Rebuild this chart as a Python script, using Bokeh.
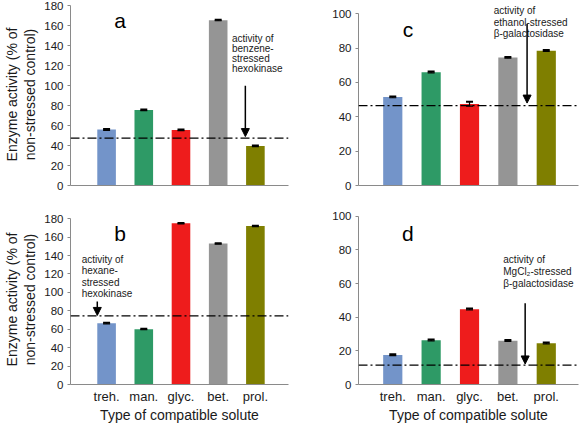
from bokeh.plotting import figure
from bokeh.layouts import column, row
from bokeh.models import FixedTicker, Label, Arrow, NormalHead, Span, ColumnDataSource, Range1d
from bokeh.embed import file_html
from bokeh.resources import INLINE

# ---------------- data ----------------
solutes = ["treh.", "man.", "glyc.", "bet.", "prol."]
colors = ["#7394c9", "#2e9a66", "#ee1c1c", "#959595", "#7f7f00"]

act_a = [56.0, 75.5, 55.5, 165.5, 39.5]
err_a = [0.7, 0.6, 0.6, 0.5, 0.5]
ref_a = 47.5

act_b = [66.5, 60.0, 175.0, 153.0, 172.0]
err_b = [0.6, 0.5, 0.5, 0.5, 0.5]
ref_b = 74.5

act_c = [51.5, 66.0, 47.5, 74.5, 78.5]
err_c = [0.4, 0.4, 1.3, 0.4, 0.4]
ref_c = 46.5

act_d = [17.5, 26.3, 44.7, 26.0, 24.5]
err_d = [0.4, 0.4, 0.4, 0.4, 0.4]
ref_d = 11.5

yticks_hex = [0, 20, 40, 60, 80, 100, 120, 140, 160, 180]
yticks_gal = [0, 20, 40, 60, 80, 100]

note_a = ["activity of", "benzene-", "stressed", "hexokinase"]
note_b = ["activity of", "hexane-", "stressed", "hexokinase"]
note_c = ["activity of", "ethanol-stressed", "\u03b2-galactosidase"]
note_d = ["activity of", "MgCl\u2082-stressed", "\u03b2-galactosidase"]

y_title = "Enzyme activity (% of\nnon-stressed control)"
x_title = "Type of compatible solute"

FONT = "Liberation Sans"
AXIS_COL = "#8a8a8a"
TXT_COL = "#1a1a1a"


def panel(vals, errs, refv, ymax, yend, yticks, xr, width, height, mbl, mbr, mbt, mbb,
          bottom_labels, left_title, letter, letter_xy, note, note_xy, note_step, arrow_xy):
    x = list(range(1, len(vals) + 1))
    src = ColumnDataSource(dict(
        x=x, top=vals, color=colors,
        lo=[v - e for v, e in zip(vals, errs)],
        hi=[v + e for v, e in zip(vals, errs)],
    ))
    p = figure(width=width, height=height, output_backend="svg", toolbar_location=None,
               x_range=Range1d(*xr), y_range=Range1d(0, yend),
               min_border_left=mbl, min_border_right=mbr,
               min_border_top=mbt, min_border_bottom=mbb)
    p.outline_line_color = None
    p.xgrid.visible = False
    p.ygrid.visible = False
    p.background_fill_color = "white"
    p.border_fill_color = "white"

    p.vbar(x="x", top="top", bottom=0, width=0.5, color="color", line_color=None, source=src)
    p.segment(x0="x", y0="lo", x1="x", y1="hi", line_color="black", line_width=1.2, source=src)
    p.scatter(x="x", y="hi", marker="dash", size=7, line_color="black", line_width=2, source=src)
    p.scatter(x="x", y="lo", marker="dash", size=7, line_color="black", line_width=1.2, source=src)

    p.add_layout(Span(location=refv, dimension="width", line_color="black",
                      line_width=1.3, line_dash="9 3 2 3"))

    # axes
    yax = p.yaxis[0]
    yax.ticker = FixedTicker(ticks=yticks)
    yax.bounds = (0, ymax)
    yax.axis_line_color = AXIS_COL
    yax.major_tick_line_color = AXIS_COL
    yax.major_tick_out = 3
    yax.major_tick_in = 0
    yax.minor_tick_out = 0
    yax.minor_tick_in = 0
    yax.major_label_text_font = FONT
    yax.major_label_text_font_size = "11.5px"
    yax.major_label_text_color = TXT_COL
    yax.major_label_standoff = 4
    if left_title:
        yax.axis_label = y_title
        yax.axis_label_text_font = FONT
        yax.axis_label_text_font_size = "14px"
        yax.axis_label_text_font_style = "normal"
        yax.axis_label_text_color = TXT_COL
        yax.axis_label_text_line_height = 1.15
        yax.axis_label_standoff = 3

    xax = p.xaxis[0]
    xax.axis_line_color = AXIS_COL
    xax.major_tick_out = 0
    xax.major_tick_in = 0
    xax.minor_tick_out = 0
    xax.minor_tick_in = 0
    if bottom_labels:
        xax.ticker = FixedTicker(ticks=x)
        xax.major_label_overrides = {i: s for i, s in zip(x, solutes)}
        xax.major_label_text_font = FONT
        xax.major_label_text_font_size = "13px"
        xax.major_label_text_color = TXT_COL
        xax.major_label_standoff = 4
        xax.axis_label = x_title
        xax.axis_label_text_font = FONT
        xax.axis_label_text_font_size = "14px"
        xax.axis_label_text_font_style = "normal"
        xax.axis_label_text_color = TXT_COL
        xax.axis_label_standoff = 0
    else:
        xax.ticker = FixedTicker(ticks=[])

    p.add_layout(Label(x=letter_xy[0], y=letter_xy[1], text=letter, text_font=FONT,
                       text_font_size="21px", text_align="center", text_baseline="middle",
                       text_color="black"))
    for i, line in enumerate(note):
        p.add_layout(Label(x=note_xy[0], y=note_xy[1], y_offset=-i * note_step, text=line,
                           text_font=FONT, text_font_size="10px", text_align="left",
                           text_baseline="middle", text_color=TXT_COL))
    p.add_layout(Arrow(end=NormalHead(size=8, fill_color="black", line_color="black"),
                       x_start=arrow_xy[0], y_start=arrow_xy[1],
                       x_end=arrow_xy[0], y_end=arrow_xy[2],
                       line_color="black", line_width=1.5))
    return p


XR_L = (0.03, 5.89)
XR_R = (0.107, 5.84)

# top row: frames 3..185 ; bottom row: frames 214..385
pa = panel(act_a, err_a, ref_a, 180, 182.3, yticks_hex, XR_L, 300, 205, 68, 12, 3, 20,
           False, True, "a", (1.36, 165.3), note_a, (4.37, 147), 10, (4.73, 100, 49))
pc = panel(act_c, err_c, ref_c, 100, 106, yticks_gal, XR_R, 281, 205, 58, 3, 3, 20,
           False, False, "c", (1.4, 90.9), note_c, (3.63, 101.9), 11.6, (4.5, 94, 48))
pb = panel(act_b, err_b, ref_b, 180, 184.6, yticks_hex, XR_L, 300, 220, 68, 12, 9, 40,
           True, True, "b", (1.36, 164.5), note_b, (0.33, 135.7), 11.3, (0.75, 90, 75))
pd = panel(act_d, err_d, ref_d, 100, 101, yticks_gal, XR_R, 281, 220, 58, 3, 9, 40,
           True, False, "d", (1.39, 90), note_d, (3.88, 74.2), 12, (4.45, 48.3, 12.2))

layout = column(row(pa, pc), row(pb, pd))

open("out.html", "w").write(file_html(layout, INLINE))
